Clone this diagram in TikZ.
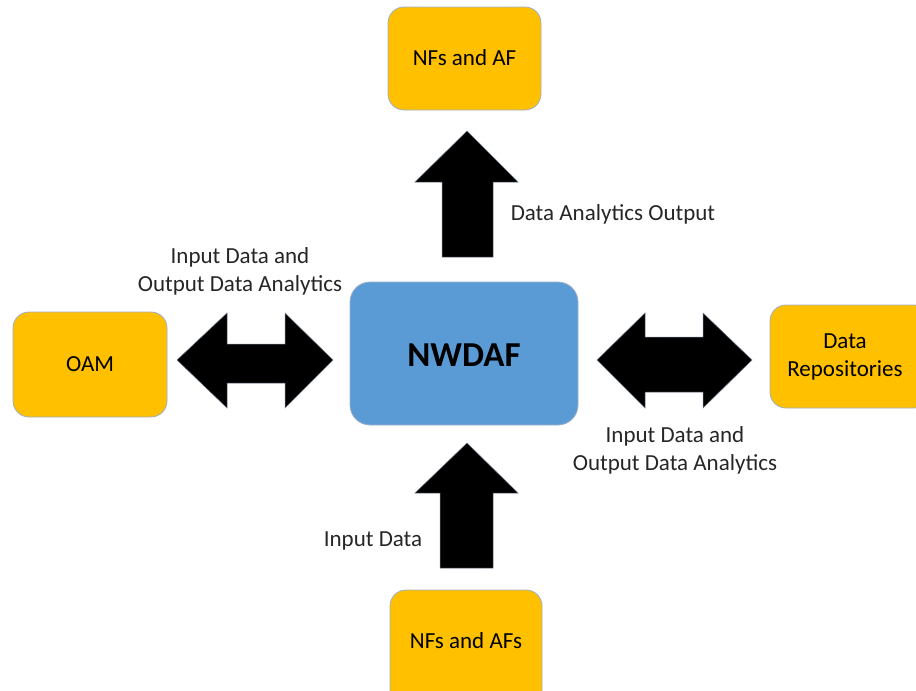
\documentclass[tikz,border=0pt]{standalone}
\usepackage{fontspec}
\setmainfont{Carlito}
\definecolor{boxyellow}{HTML}{FFC000}
\definecolor{boxblue}{HTML}{5B9BD5}
\definecolor{boxedge}{HTML}{9DB0C6}
\definecolor{labelgray}{HTML}{262626}
\begin{document}
\begin{tikzpicture}[x=1pt,y=-1pt,
  yellowbox/.style={draw=boxedge,line width=0.8pt,fill=boxyellow,rounded corners=16pt},
  bluebox/.style={draw=boxedge,line width=0.8pt,fill=boxblue,rounded corners=20pt},
  boxtext/.style={font=\fontsize{23}{28}\selectfont,align=center},
  blockarrow/.style={fill=black,draw=boxedge!70!black,line width=0.5pt,line join=miter},
  caption/.style={text=labelgray,font=\fontsize{23}{28}\selectfont,align=center}]
\useasboundingbox (0,0) rectangle (916,691);
\clip (0,0) rectangle (916,691);

% boxes
\path[yellowbox] (388,7) rectangle (541,110);
\node[boxtext] (nfaf) at (464.5,58) {NFs and AF};
\path[yellowbox] (13,312) rectangle (167,417);
\node[boxtext] (oam) at (90,364) {OAM};
\path[yellowbox] (770,305) rectangle (930,408);
\node[boxtext] (repo) at (845,357) {Data\\Repositories};
\path[yellowbox] (390,590) rectangle (542,710);
\node[boxtext] (nfafs) at (466,641) {NFs and AFs};
\path[bluebox] (350,282) rectangle (578,425);
\node (nwdaf) at (464,355) [font=\fontsize{35}{40}\selectfont\bfseries] {NWDAF};

% block arrows
\draw[blockarrow] (442,257) -- (442,182) -- (415,182) -- (467,131) -- (518,182)
  -- (493,182) -- (493,257) -- cycle;
\draw[blockarrow] (440,568) -- (440,493) -- (415,493) -- (467,443) -- (518,493)
  -- (493,493) -- (493,568) -- cycle;
\draw[blockarrow] (177,360) -- (227,313) -- (227,344) -- (285,344) -- (285,313)
  -- (333,360) -- (285,408) -- (285,383) -- (227,383) -- (227,408) -- cycle;
\draw[blockarrow] (597,360) -- (645,313) -- (645,337) -- (703,337) -- (703,313)
  -- (752,360) -- (703,408) -- (703,392) -- (645,392) -- (645,408) -- cycle;

% labels
\node[caption] (lblout) at (613,214) {Data Analytics Output};
\node[caption] (lblleft) at (240,271) {Input Data and\\Output Data Analytics};
\node[caption] (lblright) at (675,450) {Input Data and\\Output Data Analytics};
\node[caption] (lblin) at (373,541) {Input Data};
\end{tikzpicture}
\end{document}
